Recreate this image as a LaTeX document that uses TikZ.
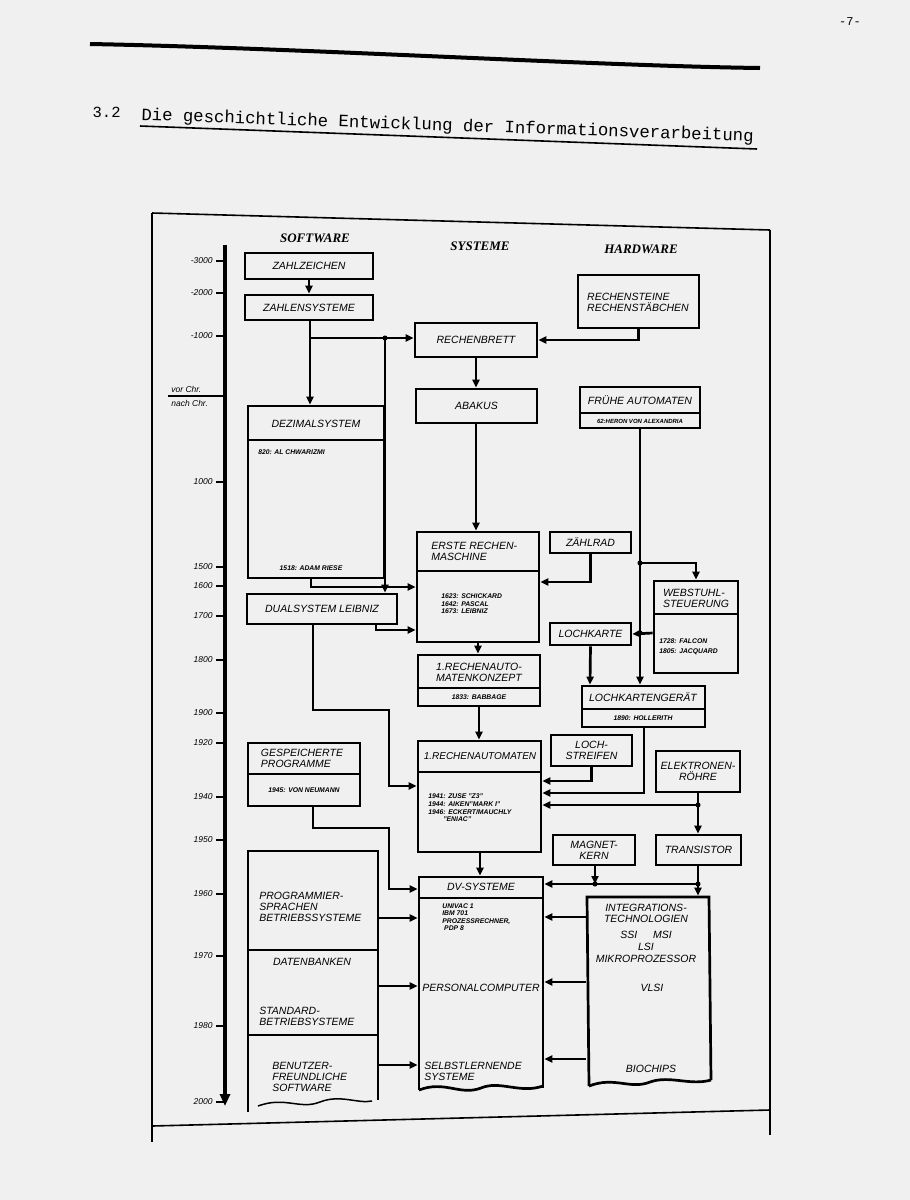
\documentclass[tikz,border=0pt]{standalone}
\usepackage{fontspec}
\setmainfont{Liberation Sans}
\newfontfamily\tw{Liberation Mono}
\newfontfamily\hd{Liberation Serif}
\usetikzlibrary{fit,arrows.meta}
\begin{document}
\begin{tikzpicture}[x=1pt,y=-1pt,line width=2.7pt,line join=miter,
 box/.style={draw,inner sep=0pt},
 ghost/.style={inner sep=0pt},
 arr/.style={-{Triangle[length=8pt,width=7pt]}},
 t/.style={font=\fontsize{10.5}{11}\selectfont\itshape,align=center,inner sep=0pt},
 tl/.style={t,align=left},
 s/.style={font=\fontsize{6.8}{7.6}\selectfont\bfseries\itshape,inner sep=0pt,align=left},
 yr/.style={font=\fontsize{8.5}{9}\selectfont\itshape,anchor=east,inner sep=0pt},
 dot/.style={circle,fill,inner sep=1.8pt}]
\fill[gray!12] (0,0) rectangle (910,1200);
\useasboundingbox (0,0) rectangle (910,1200);
% page header
\node[font=\tw\fontsize{12}{13}\selectfont] (pg) at (850,22) {-7-};
\draw[line width=4pt] (90,44) .. controls (300,48) and (600,66) .. (760,68);
\node[font=\tw\fontsize{15.5}{16}\selectfont,anchor=base west] (num) at (88,117) {3.2};
\node[font=\tw\fontsize{17.3}{18}\selectfont,anchor=base west,rotate=-2,inner sep=0pt] (ttl) at (140,120) {Die geschichtliche Entwicklung der Informationsverarbeitung};
\draw[line width=1.6pt] (140,126) -- (757,149);
% frame
\draw[line width=1.6pt] (152,213) -- (770,230);
\draw[line width=1.6pt] (152,213) -- (152,1142);
\draw[line width=1.6pt] (770,230) -- (770,1135);
\draw[line width=1.6pt] (152,1126) -- (770,1110);
% headers
\node[font=\hd\fontsize{13}{14}\selectfont\bfseries\itshape] (h1) at (315,238) {SOFTWARE};
\node[font=\hd\fontsize{13}{14}\selectfont\bfseries\itshape] (h2) at (480,246) {SYSTEME};
\node[font=\hd\fontsize{13}{14}\selectfont\bfseries\itshape] (h3) at (641,249) {HARDWARE};
% time axis
\coordinate (ax0) at (225,245); \coordinate (ax1) at (225,1106);
\draw[-{Triangle[length=12pt,width=10pt]},line width=3.2pt] (ax0) -- (ax1);
\foreach \yy/\lab in {261/-3000,293/-2000,336/-1000,482/1000,567/1500,586/1600,616/1700,660/1800,713/1900,743/1920,797/1940,840/1950,894/1960,956/1970,1026/1980,1102/2000}{
 \draw[line width=1.5pt] (216,\yy) -- (225,\yy);
 \node[yr] at (214,\yy) {\lab};}
\draw[line width=1.5pt] (168,396) -- (225,396);
\node[yr,anchor=west] (vc) at (170,389) {vor Chr.};
\node[yr,anchor=west] (nc) at (170,403) {nach Chr.};
% boxes
\node[box,fit={(245,253)(373,279)}] (zz) {};
\node[t] at (zz.center) {ZAHLZEICHEN};
\node[box,fit={(245,295)(373,320)}] (zs) {};
\node[t] at (zs.center) {ZAHLENSYSTEME};
\node[box,fit={(415,323)(537,357)}] (rb) {};
\node[t] at (rb.center) {RECHENBRETT};
\node[box,fit={(578,275)(699,328)}] (rs) {};
\node[tl] at (638,302) {RECHENSTEINE\\RECHENSTÄBCHEN};
\node[box,fit={(416,389)(537,423)}] (ab) {};
\node[t] at (ab.center) {ABAKUS};
\node[box,fit={(580,387)(700,428)}] (fa) {};
\draw (580,413) -- (700,413);
\node[t] at (640,400) {FRÜHE AUTOMATEN};
\node[s,font=\fontsize{6}{6}\selectfont\bfseries\itshape] at (640,421) {62:HERON VON ALEXANDRIA};
\node[box,fit={(248,406)(384,578)}] (dz) {};
\draw (248,440) -- (384,440);
\node[t] at (316,424) {DEZIMALSYSTEM};
\node[s,anchor=west] at (257,452) {820: AL CHWARIZMI};
\node[s] at (311,568) {1518: ADAM RIESE};
\node[box,fit={(417,532)(539,642)}] (erm) {};
\draw (417,571) -- (539,571);
\node[tl,anchor=west] at (430,551) {ERSTE RECHEN-\\MASCHINE};
\node[s,anchor=west] at (440,604) {1623: SCHICKARD\\1642: PASCAL\\1673: LEIBNIZ};
\node[box,fit={(550,532)(631,553)}] (zr) {};
\node[t] at (zr.center) {ZÄHLRAD};
\node[box,fit={(247,594)(397,624)}] (dl) {};
\node[t] at (dl.center) {DUALSYSTEM LEIBNIZ};
\node[box,fit={(654,581)(738,673)}] (ws) {};
\draw (654,614) -- (738,614);
\node[tl] at (696,598) {WEBSTUHL-\\STEUERUNG};
\node[s,anchor=west] at (658,647) {1728: FALCON\\[2pt]1805: JACQUARD};
\node[box,fit={(550,623)(631,645)}] (lk) {};
\node[t] at (lk.center) {LOCHKARTE};
\node[box,fit={(418,655)(540,706)}] (rk) {};
\draw (418,688) -- (540,688);
\node[t] at (479,672) {1.RECHENAUTO-\\MATENKONZEPT};
\node[s] at (479,697) {1833: BABBAGE};
\node[box,fit={(582,686)(705,727)}] (lg) {};
\draw (582,709) -- (705,709);
\node[t] at (643,697) {LOCHKARTENGERÄT};
\node[s] at (643,718) {1890: HOLLERITH};
\node[box,fit={(248,743)(360,806)}] (gp) {};
\draw (248,774) -- (360,774);
\node[tl] at (302,758) {GESPEICHERTE\\PROGRAMME};
\node[s] at (304,790) {1945: VON NEUMANN};
\node[box,fit={(418,741)(541,852)}] (ra) {};
\draw (418,772) -- (541,772);
\node[t,font=\fontsize{10}{11}\selectfont\itshape] at (480,756) {1.RECHENAUTOMATEN};
\node[s,anchor=west] at (427,808) {1941: ZUSE "Z3"\\1944: AIKEN"MARK I"\\1946: ECKERT/MAUCHLY\\\hspace*{2.2em}"ENIAC"};
\node[box,fit={(551,735)(632,766)}] (ls) {};
\node[t] at (ls.center) {LOCH-\\STREIFEN};
\node[box,fit={(656,751)(740,792)}] (er) {};
\node[t] at (er.center) {ELEKTRONEN-\\RÖHRE};
\node[box,fit={(553,835)(635,865)}] (mk) {};
\node[t] at (mk.center) {MAGNET-\\KERN};
\node[box,fit={(656,835)(741,865)}] (tr) {};
\node[t] at (tr.center) {TRANSISTOR};
% wavy boxes
\node[ghost,fit={(419,877)(543,1088)}] (dv) {};
\draw (419,1090) -- (419,877) -- (543,877) -- (543,1088);
\draw (419,1090) .. controls (445,1080) and (460,1096) .. (481,1088) .. controls (500,1080) and (520,1094) .. (543,1086);
\draw (419,898) -- (543,898);
\node[t] at (481,887) {DV-SYSTEME};
\node[s,anchor=north west] at (441,902) {UNIVAC 1\\IBM 701\\PROZESSRECHNER,\\\ PDP 8};
\node[t] at (481,988) {PERSONALCOMPUTER};
\node[tl,anchor=west] at (423,1071) {SELBSTLERNENDE\\SYSTEME};
\node[ghost,fit={(587,897)(711,1085)}] (it) {};
\draw (589,1086) -- (587,897) -- (709,897) -- (711,1080);
\draw (589,1086) .. controls (615,1076) and (630,1090) .. (650,1082) .. controls (670,1075) and (690,1086) .. (711,1080);
\node[t] at (646,913) {INTEGRATIONS-\\TECHNOLOGIEN};
\node[t] at (646,935) {SSI\hspace{1.5em}MSI};
\node[t] at (646,947) {LSI};
\node[t] at (646,959) {MIKROPROZESSOR};
\node[t] at (652,988) {VLSI};
\node[t] at (651,1069) {BIOCHIPS};
\node[ghost,fit={(248,851)(378,1100)}] (sw) {};
\draw (248,1112) -- (248,851) -- (378,851) -- (378,1100);
\draw (248,950) -- (378,950);
\draw (248,1035) -- (378,1035);
\draw[line width=1.5pt] (258,1106) .. controls (285,1096) and (300,1110) .. (320,1102) .. controls (340,1094) and (358,1104) .. (372,1101);
\node[tl,anchor=west] at (258,907) {PROGRAMMIER-\\SPRACHEN\\BETRIEBSSYSTEME};
\node[t] at (312,962) {DATENBANKEN};
\node[tl,anchor=west] at (258,1016) {STANDARD-\\BETRIEBSYSTEME};
\node[tl,anchor=west] at (271,1077) {BENUTZER-\\FREUNDLICHE\\SOFTWARE};
% connectors
\draw[arr] (zz) -- (zs);
\draw[arr] (310,0 |- zs.south) -- (310,0 |- dz.north);
\draw[arr] (310,338) -- (rb.west |- 0,338);
\node[dot] (d1) at (385,338) {};
\draw[arr] (d1.center) -- (385,0 |- dl.north);
\draw[arr] (rs.south) |- (rb.east);
\draw[arr] (476,0 |- rb.south) -- (476,0 |- ab.north);
\draw[arr] (476,0 |- ab.south) -- (476,0 |- erm.north);
\draw[arr] (311,0 |- dz.south) |- (erm.west |- 0,587);
\draw[arr] (zr.south) |- (erm.east |- 0,582);
\draw[arr] (376,0 |- dl.south) |- (erm.west |- 0,630);
\draw[arr] (fa.south) -- (640,0 |- lg.north);
\node[dot] (d2) at (640,563) {};
\draw[arr] (d2.center) -| (ws.north);
\node[dot] (d3) at (640,633) {};
\draw[arr] (ws.west |- 0,633) -- (lk.east);
\draw[arr] (lk.south) -- (590,0 |- lg.north);
\draw[arr] (478,0 |- erm.south) -- (478,0 |- rk.north);
\draw[arr] (479,0 |- rk.south) -- (479,0 |- ra.north);
\draw[arr] (313,0 |- dl.south) -- (313,710) -- (389,710) |- (ra.west |- 0,786);
\draw[arr] (ls.south) |- (ra.east |- 0,781);
\draw[arr] (644,0 |- lg.south) |- (ra.east |- 0,793);
\draw[arr] (698,0 |- er.south) -- (698,0 |- tr.north);
\node[dot] (d4) at (698,805) {};
\draw[arr] (d4.center) -- (ra.east |- 0,805);
\draw[arr] (313,0 |- gp.south) -- (313,828) -- (389,828) |- (dv.west |- 0,889);
\draw[arr] (480,0 |- ra.south) -- (480,0 |- dv.north);
\draw[arr] (698,0 |- tr.south) -- (698,0 |- it.north);
\node[dot] (d5) at (698,884) {};
\node[dot] (d6) at (595,884) {};
\draw[arr] (d5.center) -- (dv.east |- 0,884);
\draw[arr] (595,0 |- mk.south) -- (d6.center);
\foreach \ya/\yb in {918/917,986/982,1065/1059}{
 \draw[arr] (sw.east |- 0,\ya) -- (dv.west |- 0,\ya);
 \draw[arr] (it.west |- 0,\yb) -- (dv.east |- 0,\yb);}
\end{tikzpicture}
\end{document}
